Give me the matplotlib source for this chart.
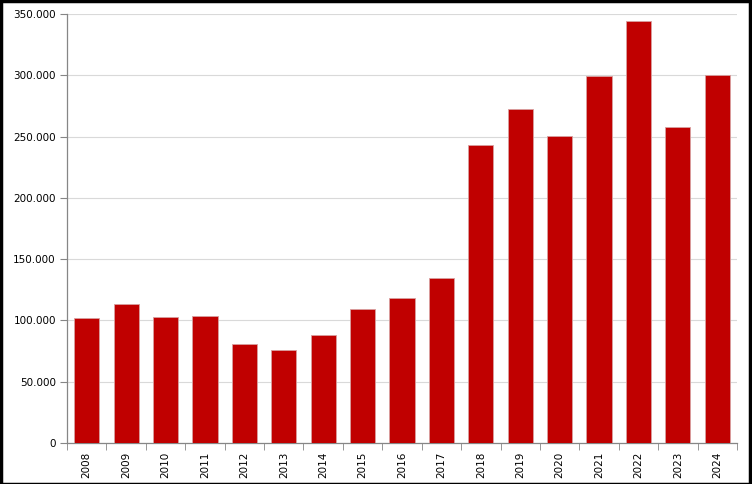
import matplotlib
matplotlib.use("Agg")
import matplotlib.pyplot as plt
from matplotlib.ticker import FuncFormatter, MultipleLocator, FixedLocator
from matplotlib.patches import Rectangle

years = ["2008", "2009", "2010", "2011", "2012", "2013", "2014", "2015", "2016",
         "2017", "2018", "2019", "2020", "2021", "2022", "2023", "2024"]
values = [102000, 113400, 102800, 103600, 80800, 75900, 88100, 109300, 118300,
          134600, 243100, 272500, 250400, 299400, 344000, 257800, 300200]

fig = plt.figure(figsize=(7.52, 4.84), dpi=100)
ax = fig.add_axes([67/752, 1-443/484, (737-67)/752, (443-14)/484])

x = list(range(len(years)))
ax.bar(x, values, width=0.64, color="#C00000", edgecolor="#D9A0A0", linewidth=0.6, zorder=3)

ax.set_xlim(-0.5, len(years)-0.5)
ax.set_ylim(0, 350000)
ax.yaxis.set_major_locator(MultipleLocator(50000))
ax.yaxis.set_major_formatter(FuncFormatter(lambda v, p: f"{int(v):,}".replace(",", ".")))
ax.grid(axis="y", color="#D9D9D9", linewidth=0.8, zorder=0)

ax.set_xticks(x)
ax.set_xticklabels(years, rotation=90, fontsize=7.5, family="DejaVu Sans")
ax.tick_params(axis="x", which="major", length=0, pad=6)
ax.xaxis.set_minor_locator(FixedLocator([i - 0.5 for i in range(len(years)+1)]))
ax.tick_params(axis="x", which="minor", length=5, color="#868686", direction="out")
ax.tick_params(axis="y", length=5, color="#868686", labelsize=7.5, pad=3)

for s in ["top", "right"]:
    ax.spines[s].set_visible(False)
for s in ["left", "bottom"]:
    ax.spines[s].set_color("#868686")
    ax.spines[s].set_linewidth(0.9)

fig.patches.append(Rectangle((0.001, 0.001), 0.997, 0.996, transform=fig.transFigure,
                             fill=False, edgecolor="black", linewidth=2.5))

fig.savefig("out.png", dpi=100)
